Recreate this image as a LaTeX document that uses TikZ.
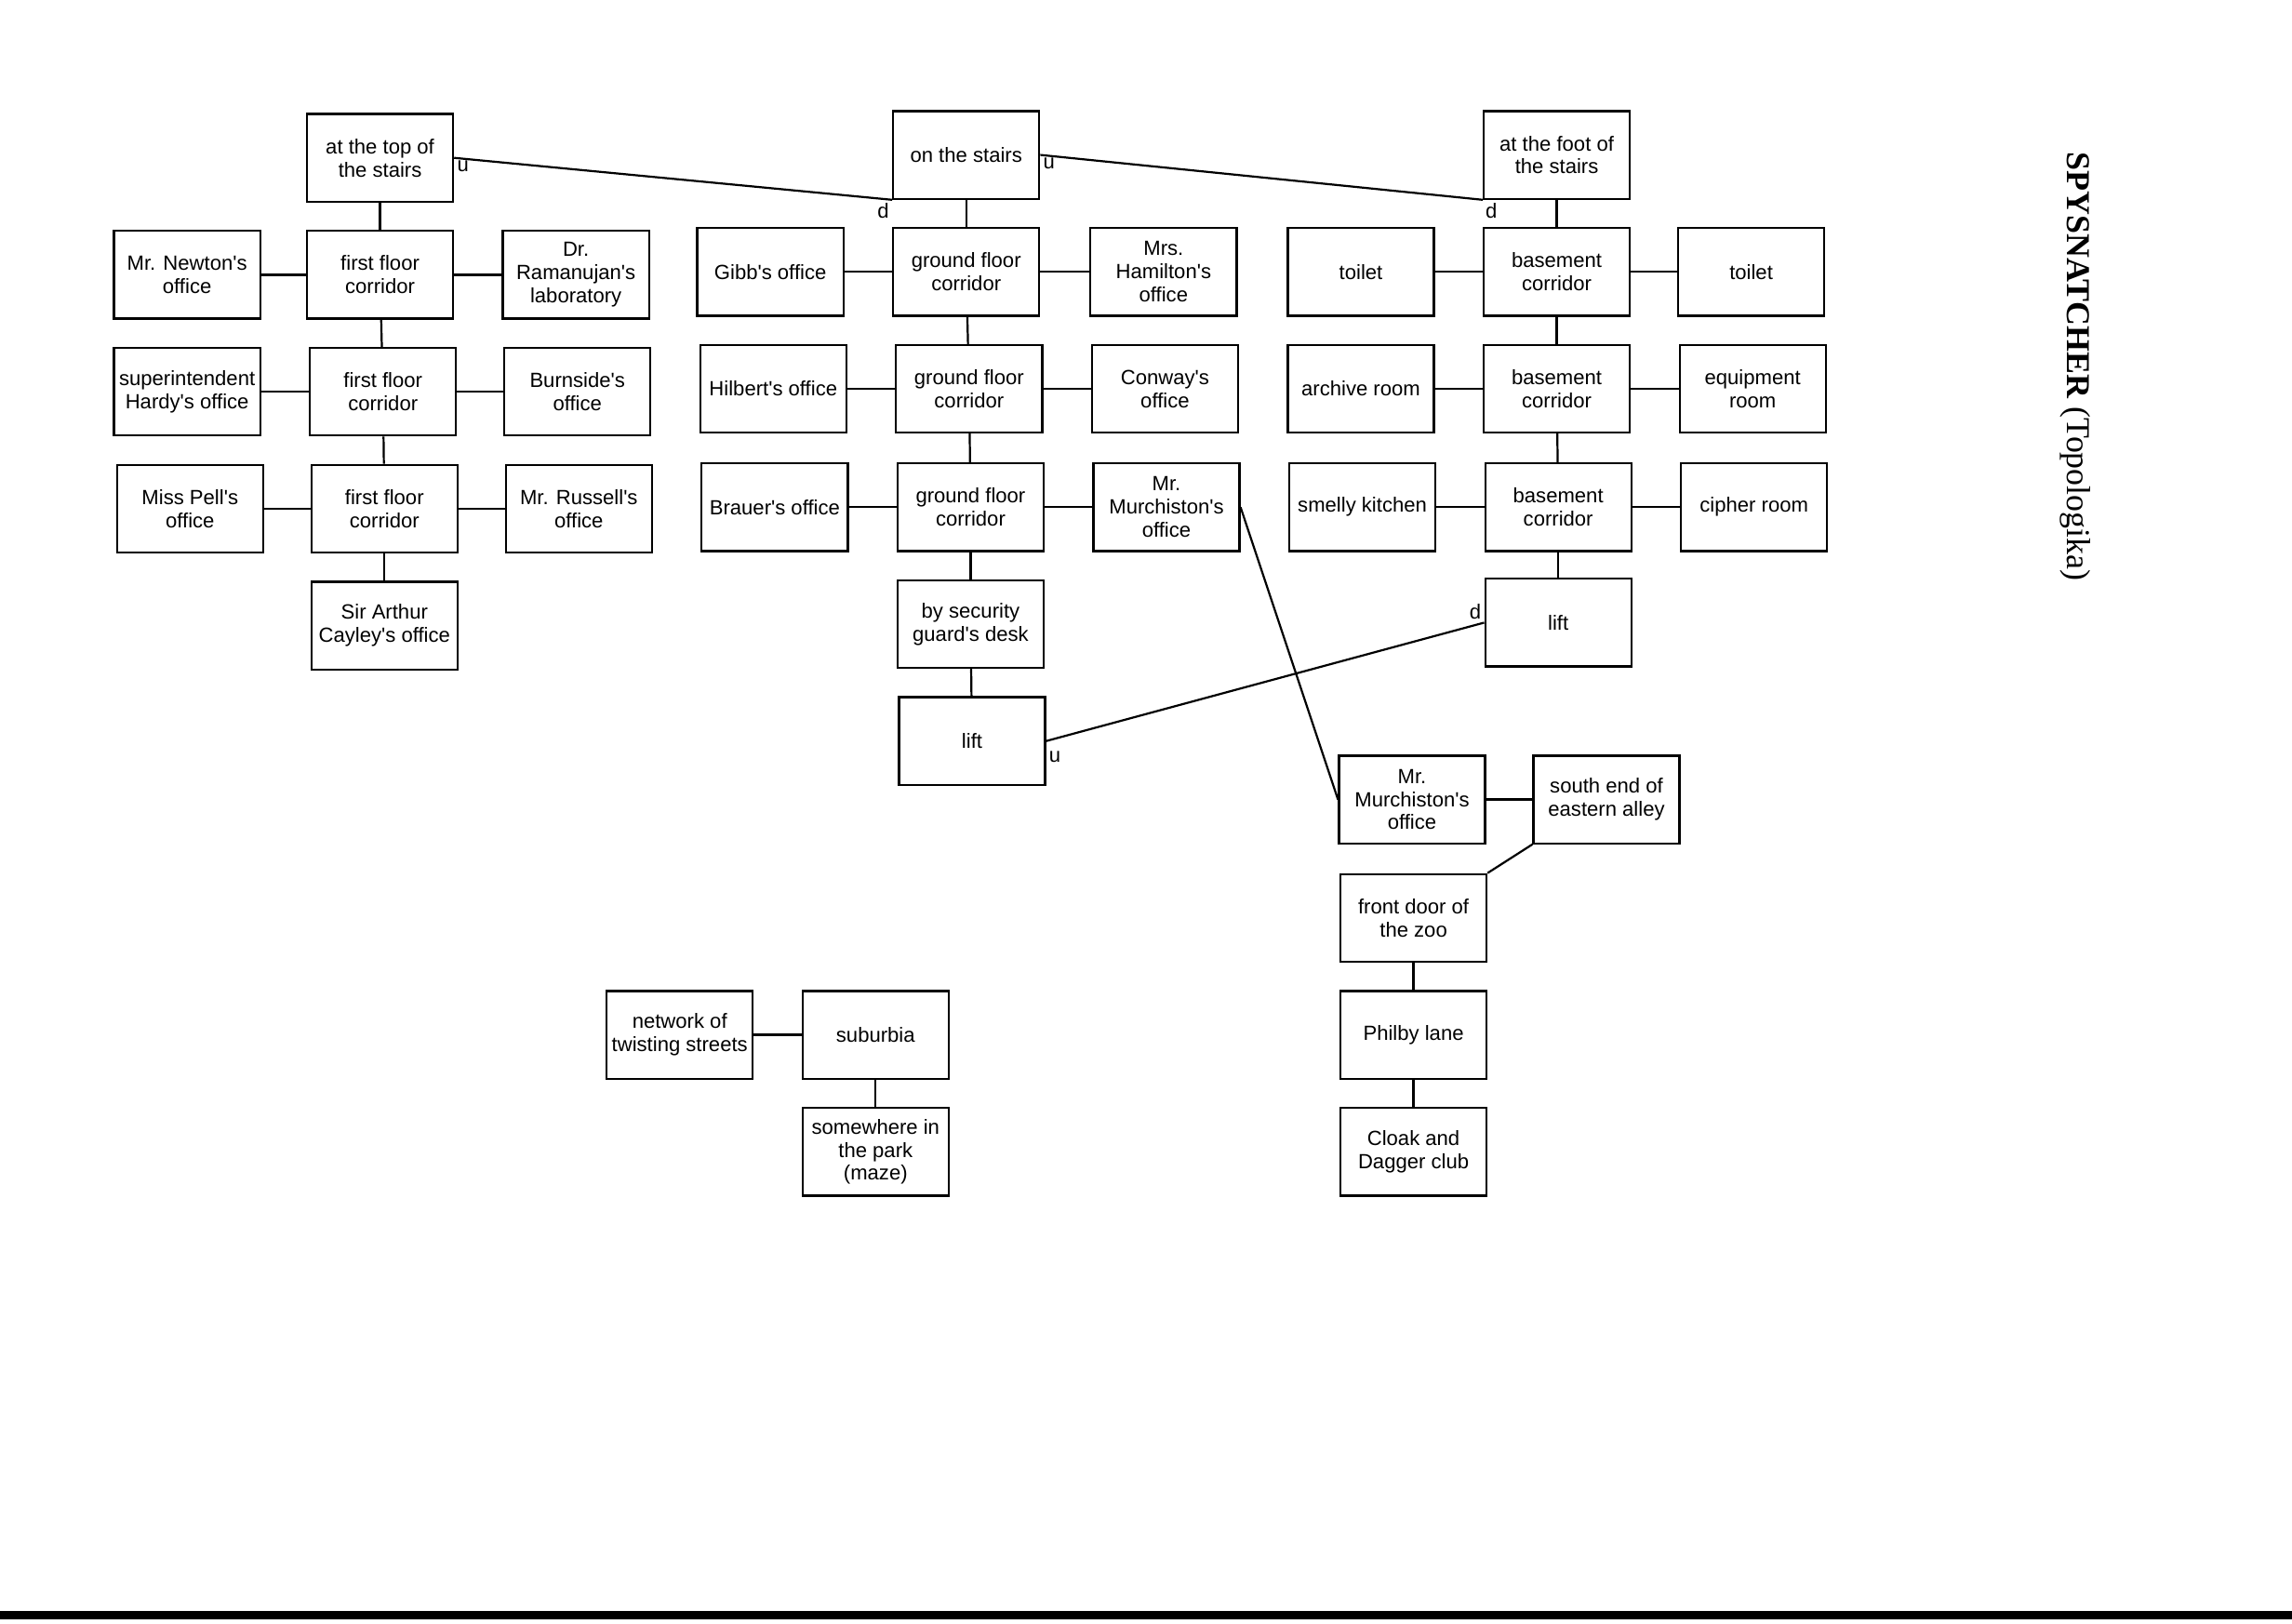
\documentclass[tikz,border=0pt]{standalone}
\usepackage{fontspec}
\setmainfont{Liberation Serif}
\newfontfamily\boxfont{Liberation Sans}
\begin{document}
\begin{tikzpicture}[x=0.02cm,y=-0.02cm,
    room/.style={draw,thick,minimum width=2cm,minimum height=1.2cm,inner sep=1pt,
      align=center,font=\boxfont\fontsize{8}{9}\selectfont},
    link/.style={thick},
    tag/.style={font=\boxfont\fontsize{8}{9}\selectfont,inner sep=1pt}]
  \useasboundingbox (0,0) rectangle (1568,1111);

  %%%%  first floor
  \node[room] (topstairs) at (260,108) {at the top of\\the stairs};
  \node[room] (ffa) at (260,188) {first floor\\corridor};
  \node[room] (newton) at (128,188) {Mr. Newton's\\office};
  \node[room] (ramanujan) at (394,188) {Dr.\\Ramanujan's\\laboratory};
  \node[room] (ffb) at (262,268) {first floor\\corridor};
  \node[room] (hardy) at (128,268) {superintendent\\Hardy's office};
  \node[room] (burnside) at (395,268) {Burnside's\\office};
  \node[room] (ffc) at (263,348) {first floor\\corridor};
  \node[room] (pell) at (130,348) {Miss Pell's\\office};
  \node[room] (russell) at (396,348) {Mr. Russell's\\office};
  \node[room] (cayley) at (263,428) {Sir Arthur\\Cayley's office};

  %%%%  ground floor
  \node[room] (onstairs) at (661,106) {on the stairs};
  \node[room] (gfa) at (661,186) {ground floor\\corridor};
  \node[room] (gibb) at (527,186) {Gibb's office};
  \node[room] (hamilton) at (796,186) {Mrs.\\Hamilton's\\office};
  \node[room] (gfb) at (663,266) {ground floor\\corridor};
  \node[room] (hilbert) at (529,266) {Hilbert's office};
  \node[room] (conway) at (797,266) {Conway's\\office};
  \node[room] (gfc) at (664,347) {ground floor\\corridor};
  \node[room] (brauer) at (530,347) {Brauer's office};
  \node[room] (murchA) at (798,347) {Mr.\\Murchiston's\\office};
  \node[room] (guard) at (664,427) {by security\\guard's desk};
  \node[room] (liftA) at (665,507) {lift};

  %%%%  basement
  \node[room] (footstairs) at (1065,106) {at the foot of\\the stairs};
  \node[room] (bca) at (1065,186) {basement\\corridor};
  \node[room] (toiletA) at (931,186) {toilet};
  \node[room] (toiletB) at (1198,186) {toilet};
  \node[room] (bcb) at (1065,266) {basement\\corridor};
  \node[room] (archive) at (931,266) {archive room};
  \node[room] (equipment) at (1199,266) {equipment\\room};
  \node[room] (bcc) at (1066,347) {basement\\corridor};
  \node[room] (kitchen) at (932,347) {smelly kitchen};
  \node[room] (cipher) at (1200,347) {cipher room};
  \node[room] (liftB) at (1066,426) {lift};

  %%%%  outside
  \node[room] (murchB) at (966,547) {Mr.\\Murchiston's\\office};
  \node[room] (alley) at (1099,547) {south end of\\eastern alley};
  \node[room] (zoo) at (967,628) {front door of\\the zoo};
  \node[room] (philby) at (967,708) {Philby lane};
  \node[room] (cloak) at (967,788) {Cloak and\\Dagger club};
  \node[room] (streets) at (465,708) {network of\\twisting streets};
  \node[room] (suburbia) at (599,708) {suburbia};
  \node[room] (park) at (599,788) {somewhere in\\the park\\(maze)};

  \foreach \a/\b in {topstairs/ffa,ffa/ffb,ffb/ffc,ffc/cayley,newton/ffa,ffa/ramanujan,
      hardy/ffb,ffb/burnside,pell/ffc,ffc/russell,
      onstairs/gfa,gfa/gfb,gfb/gfc,gfc/guard,guard/liftA,gibb/gfa,gfa/hamilton,
      hilbert/gfb,gfb/conway,brauer/gfc,gfc/murchA,
      footstairs/bca,bca/bcb,bcb/bcc,bcc/liftB,toiletA/bca,bca/toiletB,
      archive/bcb,bcb/equipment,kitchen/bcc,bcc/cipher,
      murchB/alley,zoo/philby,philby/cloak,streets/suburbia,suburbia/park}
    \draw[link] (\a) -- (\b);

  \draw[link] (topstairs.east) -- (onstairs.south west);
  \draw[link] (onstairs.east) -- (footstairs.south west);
  \draw[link] (liftA.east) -- (liftB.west);
  \draw[link] (murchA.east) -- (murchB.west);
  \draw[link] (alley.south west) -- (zoo.north east);

  \node[tag,anchor=north west] at (topstairs.east) {u};
  \node[tag,anchor=north east] at (onstairs.south west) {d};
  \node[tag,anchor=north west] at (onstairs.east) {u};
  \node[tag,anchor=north west] at (footstairs.south west) {d};
  \node[tag,anchor=west] at ([yshift=-0.22cm]liftA.east) {u};
  \node[tag,anchor=south east] at (liftB.west) {d};

  \node[rotate=-90,anchor=west,font=\fontsize{13}{15}\selectfont] (title) at (1420,98)
    {\textbf{SPYSNATCHER} (Topologika)};
  \draw[line width=3pt] (0,1105) -- (1568,1105);
\end{tikzpicture}
\end{document}
